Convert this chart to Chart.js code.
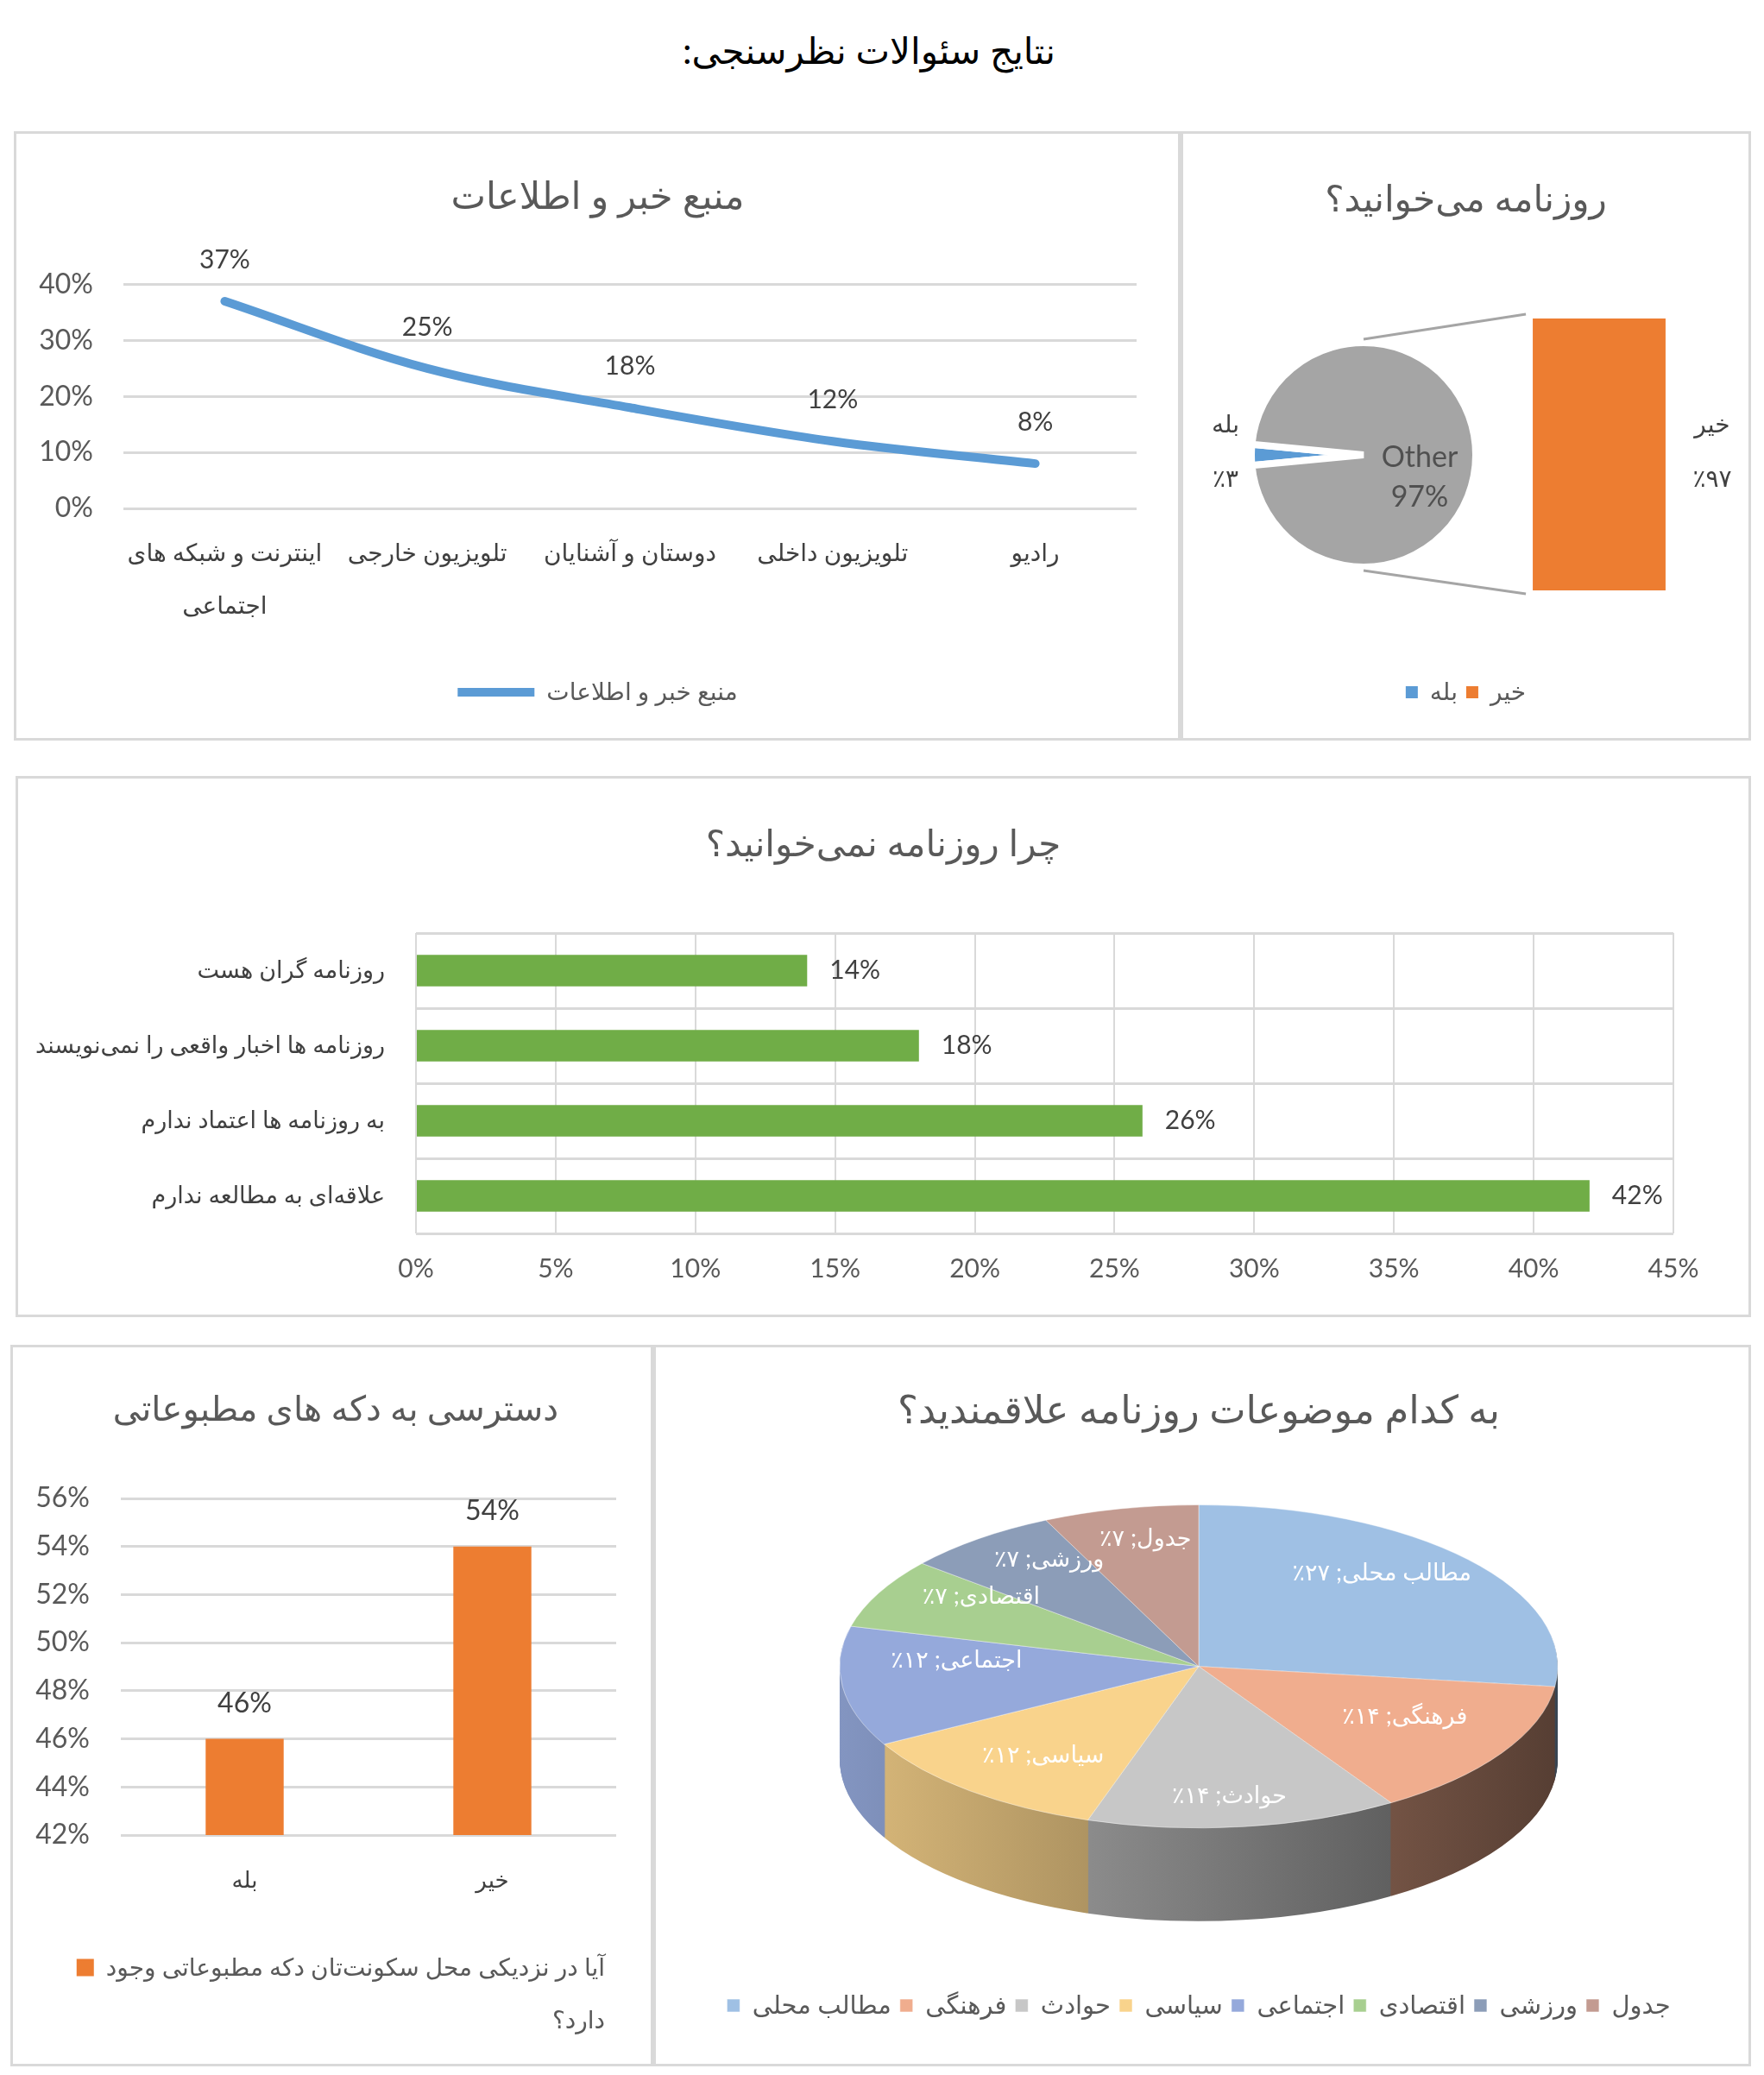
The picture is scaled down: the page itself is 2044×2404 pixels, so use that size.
<!DOCTYPE html>
<html lang="fa">
<head>
<meta charset="utf-8">
<title>نتایج سئوالات نظرسنجی</title>
<script src="https://cdn.jsdelivr.net/npm/chart.js@4.4.1/dist/chart.umd.min.js"></script>
<style>
html, body { margin: 0; padding: 0; background: #fff; }
body { position: relative; width: 2044px; height: 2404px; overflow: hidden; font-family: Lato, "DejaVu Sans", sans-serif; }
#pageTitle { position: absolute; left: 0; top: 30px; width: 2014px; text-align: center; direction: rtl; font-size: 42px; line-height: 56px; color: #000; }
.panel { position: absolute; box-shadow: inset 0 0 0 3px #d9d9d9; }
.box { position: absolute; left: 0; top: 0; width: 100%; height: 100%; }
</style>
</head>
<body>
<div id="pageTitle">نتایج سئوالات نظرسنجی:</div>
<div class="panel" style="left:16px;top:152px;width:1352px;height:706px"><div class="box"><canvas id="sourceChart"></canvas></div></div>
<div class="panel" style="left:1368px;top:152px;width:661px;height:706px">
  <div style="position:absolute;left:0;top:225px;width:424px;height:300px"><canvas id="readPie"></canvas></div>
  <div class="box"><canvas id="readBar"></canvas></div>
</div>
<div class="panel" style="left:18px;top:899px;width:2011px;height:627px"><div class="box"><canvas id="reasonChart"></canvas></div></div>
<div class="panel" style="left:12px;top:1558px;width:745px;height:836px"><div class="box"><canvas id="kioskChart"></canvas></div></div>
<div class="panel" style="left:757px;top:1558px;width:1272px;height:836px"><div class="box"><canvas id="topicChart"></canvas></div></div>

<script>
// منبع خبر و اطلاعات
const sourceLabels = [['اینترنت و شبکه های', 'اجتماعی'], 'تلویزیون خارجی', 'دوستان و آشنایان', 'تلویزیون داخلی', 'رادیو'];
const sourceValues = [37, 25, 18, 12, 8];

// روزنامه می‌خوانید؟ (pie of bar)
const readPieLabels = ['بله', 'Other'];
const readPieValues = [3, 97];
const readBarLabels = ['خیر'];
const readBarValues = [97];

// چرا روزنامه نمی‌خوانید؟
const reasonLabels = ['روزنامه گران هست', 'روزنامه ها اخبار واقعی را نمی‌نویسند', 'به روزنامه ها اعتماد ندارم', 'علاقه‌ای به مطالعه ندارم'];
const reasonValues = [14, 18, 26, 42];

// دسترسی به دکه های مطبوعاتی
const kioskLabels = ['بله', 'خیر'];
const kioskValues = [46, 54];
const kioskSeries = ['آیا در نزدیکی محل سکونت‌تان دکه مطبوعاتی وجود', 'دارد؟'];

// به کدام موضوعات روزنامه علاقمندید؟
const topicLabels = ['مطالب محلی', 'فرهنگی', 'حوادث', 'سیاسی', 'اجتماعی', 'اقتصادی', 'ورزشی', 'جدول'];
const topicValues = [27, 14, 14, 12, 12, 7, 7, 7];
const topicColors = ['#9FC0E4', '#F0AD8E', '#C7C7C7', '#F9D38C', '#95A9DB', '#A8CF90', '#8C9DB8', '#C39B91'];

const FONT = 'Lato, "DejaVu Sans", sans-serif';
const BLUE = '#5B9BD5', ORANGE = '#ED7D31', GRAY = '#A5A5A5', GREEN = '#70AD47', GRID = '#D9D9D9';
const TEXT = '#595959', DARK = '#404040';

Chart.defaults.font.family = FONT;
Chart.defaults.color = TEXT;
Chart.defaults.animation = false;
Chart.defaults.plugins.tooltip.enabled = false;
Chart.defaults.responsive = true;
Chart.defaults.maintainAspectRatio = false;

function fa(n) { return String(n).replace(/\d/g, d => '۰۱۲۳۴۵۶۷۸۹'[d]); }
function shade(hex, f) {
  const n = parseInt(hex.slice(1), 16);
  return 'rgb(' + Math.round((n >> 16 & 255) * f) + ',' + Math.round((n >> 8 & 255) * f) + ',' + Math.round((n & 255) * f) + ')';
}
function title(text, size, top, bottom) {
  return { display: true, text: text, color: TEXT, font: { size: size, weight: 'normal' }, padding: { top: top, bottom: bottom } };
}

// moves the title / legend boxes sideways after layout (Excel centres them on the whole panel)
const shiftBoxes = {
  id: 'shiftBoxes',
  afterLayout(chart, args, opts) {
    if (opts.title && chart.titleBlock) { chart.titleBlock.left += opts.title; chart.titleBlock.right += opts.title; }
    if (opts.legend && chart.legend) { chart.legend.left += opts.legend; chart.legend.right += opts.legend; }
  }
};

// ---------- line chart ----------
const lineLabels = {
  id: 'lineLabels',
  afterDatasetsDraw(chart) {
    const ctx = chart.ctx;
    const data = chart.data.datasets[0].data;
    ctx.save();
    ctx.font = '30px ' + FONT;
    ctx.fillStyle = DARK;
    ctx.textAlign = 'center';
    ctx.textBaseline = 'middle';
    chart.getDatasetMeta(0).data.forEach((pt, i) => ctx.fillText(data[i] + '%', pt.x, pt.y - 48));
    ctx.restore();
  }
};

new Chart(document.getElementById('sourceChart'), {
  type: 'line',
  data: {
    labels: sourceLabels,
    datasets: [{
      label: 'منبع خبر و اطلاعات',
      data: sourceValues,
      borderColor: BLUE,
      backgroundColor: BLUE,
      borderWidth: 10,
      borderCapStyle: 'round',
      borderJoinStyle: 'round',
      tension: 0.35,
      pointRadius: 0
    }]
  },
  options: {
    layout: { padding: { left: 0, right: 51, top: 0, bottom: 32 } },
    plugins: {
      title: title('منبع خبر و اطلاعات', 43, 50, 76),
      legend: {
        position: 'bottom',
        labels: { usePointStyle: true, pointStyle: 'line', pointStyleWidth: 89, color: TEXT, font: { size: 28 }, padding: 10 }
      },
      shiftBoxes: { title: 26, legend: 26 }
    },
    scales: {
      x: {
        offset: true,
        grid: { display: false },
        border: { display: false },
        ticks: { padding: 13, color: DARK, maxRotation: 0, minRotation: 0, autoSkip: false, font: { size: 28, lineHeight: 2.18 } },
        afterFit: s => { s.height = 189; }
      },
      y: {
        min: 0, max: 40,
        grid: { color: GRID, lineWidth: 3, drawTicks: false },
        border: { display: false },
        ticks: { stepSize: 10, padding: 35, font: { size: 32 }, callback: v => v + '%' },
        afterFit: s => { s.width = 127; }
      }
    }
  },
  plugins: [lineLabels, shiftBoxes]
});

// ---------- pie of bar ----------
const readPieText = {
  id: 'readPieText',
  afterDatasetsDraw(chart) {
    const ctx = chart.ctx;
    const arc = chart.getDatasetMeta(0).data[0];
    const cx = arc.x, cy = arc.y, r = arc.outerRadius;
    ctx.save();
    ctx.textAlign = 'center';
    ctx.textBaseline = 'middle';
    ctx.fillStyle = DARK;
    ctx.font = '28px ' + FONT;
    ctx.fillText(readPieLabels[0], cx - r - 30, cy - 35);
    ctx.fillText('٪' + fa(readPieValues[0]), cx - r - 30, cy + 28);
    ctx.fillStyle = '#505050';
    ctx.font = '34px ' + FONT;
    ctx.fillText(readPieLabels[1], cx + r / 2, cy + 3);
    ctx.fillText(readPieValues[1] + '%', cx + r / 2, cy + 49);
    ctx.restore();
  }
};

const pieTotal = readPieValues.reduce((a, b) => a + b, 0);
const readPie = new Chart(document.getElementById('readPie'), {
  type: 'pie',
  data: {
    labels: readPieLabels,
    datasets: [{ data: readPieValues, backgroundColor: [BLUE, GRAY], borderColor: '#ffffff', borderWidth: 8, clip: false }]
  },
  options: {
    radius: 130,
    rotation: 270 - readPieValues[0] / pieTotal * 180,
    plugins: { legend: { display: false }, title: { display: false } }
  },
  plugins: [readPieText]
});

const connectors = {
  id: 'connectors',
  afterDatasetsDraw(chart) {
    const ctx = chart.ctx;
    const arc = readPie.getDatasetMeta(0).data[0];
    const bar = chart.getDatasetMeta(0).data[1];
    const pr = readPie.canvas.getBoundingClientRect();
    const br = chart.canvas.getBoundingClientRect();
    const cx = arc.x + pr.left - br.left;
    const cy = arc.y + pr.top - br.top;
    const r = arc.outerRadius + 4;
    const left = bar.x - bar.width / 2 - 8;
    ctx.save();
    ctx.strokeStyle = GRAY;
    ctx.lineWidth = 3;
    ctx.beginPath();
    ctx.moveTo(cx, cy - r);
    ctx.lineTo(left, bar.y - 5);
    ctx.moveTo(cx, cy + r);
    ctx.lineTo(left, bar.base + 4);
    ctx.stroke();
    const mid = (bar.y + bar.base) / 2;
    const tx = bar.x + bar.width / 2 + 54;
    ctx.fillStyle = DARK;
    ctx.font = '28px ' + FONT;
    ctx.textAlign = 'center';
    ctx.textBaseline = 'middle';
    ctx.fillText(readBarLabels[0], tx, mid - 35);
    ctx.fillText('٪' + fa(readBarValues[0]), tx, mid + 28);
    ctx.restore();
  }
};

new Chart(document.getElementById('readBar'), {
  type: 'bar',
  data: {
    labels: [readPieLabels[1]].concat(readBarLabels),
    datasets: [{
      label: readBarLabels[0],
      data: [null].concat(readBarValues),
      backgroundColor: ORANGE,
      barPercentage: 0.498,
      categoryPercentage: 1
    }]
  },
  options: {
    layout: { padding: { left: 21.5, right: 21.5, bottom: 32 } },
    plugins: {
      title: title('روزنامه می‌خوانید؟', 42, 54, 112.6),
      legend: {
        position: 'bottom',
        labels: {
          boxWidth: 14, boxHeight: 14, padding: 10, font: { size: 28 },
          generateLabels: () => [
            { text: readPieLabels[0], fillStyle: BLUE, strokeStyle: BLUE, lineWidth: 0, fontColor: TEXT, hidden: false },
            { text: readBarLabels[0], fillStyle: ORANGE, strokeStyle: ORANGE, lineWidth: 0, fontColor: TEXT, hidden: false }
          ]
        }
      }
    },
    scales: {
      x: { grid: { display: false }, border: { display: false }, ticks: { display: false }, afterFit: s => { s.height = 94; } },
      y: { display: false, min: 0, max: Math.max.apply(null, readBarValues) }
    }
  },
  plugins: [connectors]
});

// ---------- horizontal bars ----------
const barEndLabels = {
  id: 'barEndLabels',
  afterDatasetsDraw(chart) {
    const ctx = chart.ctx;
    const data = chart.data.datasets[0].data;
    ctx.save();
    ctx.font = '30px ' + FONT;
    ctx.fillStyle = DARK;
    ctx.textAlign = 'left';
    ctx.textBaseline = 'middle';
    chart.getDatasetMeta(0).data.forEach((b, i) => ctx.fillText(data[i] + '%', b.x + 26, b.y));
    ctx.restore();
  }
};

new Chart(document.getElementById('reasonChart'), {
  type: 'bar',
  data: {
    labels: reasonLabels,
    datasets: [{ data: reasonValues, backgroundColor: GREEN, barPercentage: 0.42, categoryPercentage: 1 }]
  },
  options: {
    indexAxis: 'y',
    layout: { padding: { right: 90, bottom: 0 } },
    plugins: {
      legend: { display: false },
      title: title('چرا روزنامه نمی‌خوانید؟', 42, 54, 77.6),
      shiftBoxes: { title: 45 }
    },
    scales: {
      x: {
        min: 0, max: 45,
        grid: { color: GRID, lineWidth: 2, drawTicks: false },
        border: { display: false },
        ticks: { stepSize: 5, padding: 23, font: { size: 30 }, callback: v => v + '%', maxRotation: 0 },
        afterFit: s => { s.height = 97; }
      },
      y: {
        grid: { color: GRID, lineWidth: 3, drawTicks: false, offset: true },
        border: { display: false },
        ticks: { padding: 36, color: DARK, font: { size: 27 } },
        afterFit: s => { s.width = 464; }
      }
    }
  },
  plugins: [barEndLabels, shiftBoxes]
});

// ---------- columns ----------
const columnLabels = {
  id: 'columnLabels',
  afterDatasetsDraw(chart) {
    const ctx = chart.ctx;
    const data = chart.data.datasets[0].data;
    ctx.save();
    ctx.font = '32px ' + FONT;
    ctx.fillStyle = DARK;
    ctx.textAlign = 'center';
    ctx.textBaseline = 'middle';
    chart.getDatasetMeta(0).data.forEach((b, i) => ctx.fillText(data[i] + '%', b.x, b.y - 41));
    ctx.restore();
  }
};

new Chart(document.getElementById('kioskChart'), {
  type: 'bar',
  data: {
    labels: kioskLabels,
    datasets: [{ label: kioskSeries.join(' '), data: kioskValues, backgroundColor: ORANGE, barPercentage: 0.315, categoryPercentage: 1 }]
  },
  options: {
    layout: { padding: { left: 0, right: 43, bottom: 29.5 } },
    plugins: {
      title: title('دسترسی به دکه های مطبوعاتی', 40, 51, 79),
      legend: {
        position: 'bottom', align: 'end',
        labels: {
          boxWidth: 20, boxHeight: 20, padding: 33, font: { size: 28 },
          // the series name wraps onto a second, box-less row as in the original
          generateLabels: () => [
            { text: kioskSeries[0], fillStyle: ORANGE, strokeStyle: ORANGE, lineWidth: 0, fontColor: TEXT, hidden: false },
            { text: kioskSeries[1], fillStyle: 'rgba(0,0,0,0)', strokeStyle: 'rgba(0,0,0,0)', lineWidth: 0, fontColor: TEXT, hidden: false }
          ]
        }
      },
      shiftBoxes: { title: 26, legend: 20 }
    },
    scales: {
      x: {
        grid: { display: false }, border: { display: false },
        ticks: { padding: 29, color: DARK, font: { size: 26 }, maxRotation: 0 },
        afterFit: s => { s.height = 106.5; }
      },
      y: {
        min: 42, max: 56,
        grid: { color: GRID, lineWidth: 3, drawTicks: false },
        border: { display: false },
        ticks: { stepSize: 2, padding: 36, font: { size: 32 }, callback: v => v + '%' },
        afterFit: s => { s.width = 128; }
      }
    }
  },
  plugins: [columnLabels, shiftBoxes]
});

// ---------- 3D pie ----------
const TILT = 0.45, DEPTH = 108, LABEL_POS = 0.68, LABEL_LIFT = 24;

function drawArcWith(arc, ctx, over) {
  const tmp = Object.create(arc);
  tmp.options = Object.assign({}, arc.options, over);
  arc.draw.call(tmp, ctx);
}

const pie3d = {
  id: 'pie3d',
  beforeDatasetsDraw(chart) {
    const ctx = chart.ctx;
    const arcs = chart.getDatasetMeta(0).data;
    const cx = arcs[0].x, cy = arcs[0].y, r = arcs[0].outerRadius;
    const top = cy - DEPTH / 2;
    const sides = arcs.map((a, i) => {
      const g = ctx.createLinearGradient(cx - r, 0, cx + r, 0);
      g.addColorStop(0, shade(topicColors[i], 0.88));
      g.addColorStop(1, shade(topicColors[i], 0.36));
      return g;
    });
    for (let d = DEPTH; d > 0; d--) {
      ctx.save();
      ctx.translate(cx, top + d);
      ctx.scale(1, TILT);
      ctx.translate(-cx, -cy);
      arcs.forEach((a, i) => drawArcWith(a, ctx, { backgroundColor: sides[i], borderWidth: 0 }));
      ctx.restore();
    }
    ctx.save();
    ctx.translate(cx, top);
    ctx.scale(1, TILT);
    ctx.translate(-cx, -cy);
  },
  afterDatasetsDraw(chart) {
    const ctx = chart.ctx;
    ctx.restore();
    const arcs = chart.getDatasetMeta(0).data;
    const cx = arcs[0].x, cy = arcs[0].y, r = arcs[0].outerRadius;
    const top = cy - DEPTH / 2;
    ctx.save();
    ctx.direction = 'rtl';
    ctx.textAlign = 'center';
    ctx.textBaseline = 'middle';
    ctx.fillStyle = '#ffffff';
    ctx.font = '27px ' + FONT;
    arcs.forEach((a, i) => {
      const mid = (a.startAngle + a.endAngle) / 2;
      const s = Math.sin(mid);
      const front = Math.max(0, s);
      const x = cx + Math.cos(mid) * r * LABEL_POS;
      const y = top + s * r * LABEL_POS * TILT - LABEL_LIFT * (1 - 2 * front * front);
      ctx.fillText(topicLabels[i] + '; ' + fa(topicValues[i]) + '٪', x, y);
    });
    ctx.restore();
  }
};

new Chart(document.getElementById('topicChart'), {
  type: 'pie',
  data: {
    labels: topicLabels,
    datasets: [{ data: topicValues, backgroundColor: topicColors, borderColor: 'rgba(255,255,255,0.6)', borderWidth: 1, clip: false }]
  },
  options: {
    radius: 416,
    layout: { padding: { left: 0, right: 8, bottom: 46 } },
    plugins: {
      title: title('به کدام موضوعات روزنامه علاقمندید؟', 45, 49, 9.2),
      legend: {
        position: 'bottom',
        labels: { boxWidth: 15, boxHeight: 15, padding: 10, color: TEXT, font: { size: 29 } }
      }
    }
  },
  plugins: [pie3d]
});
</script>
</body>
</html>
